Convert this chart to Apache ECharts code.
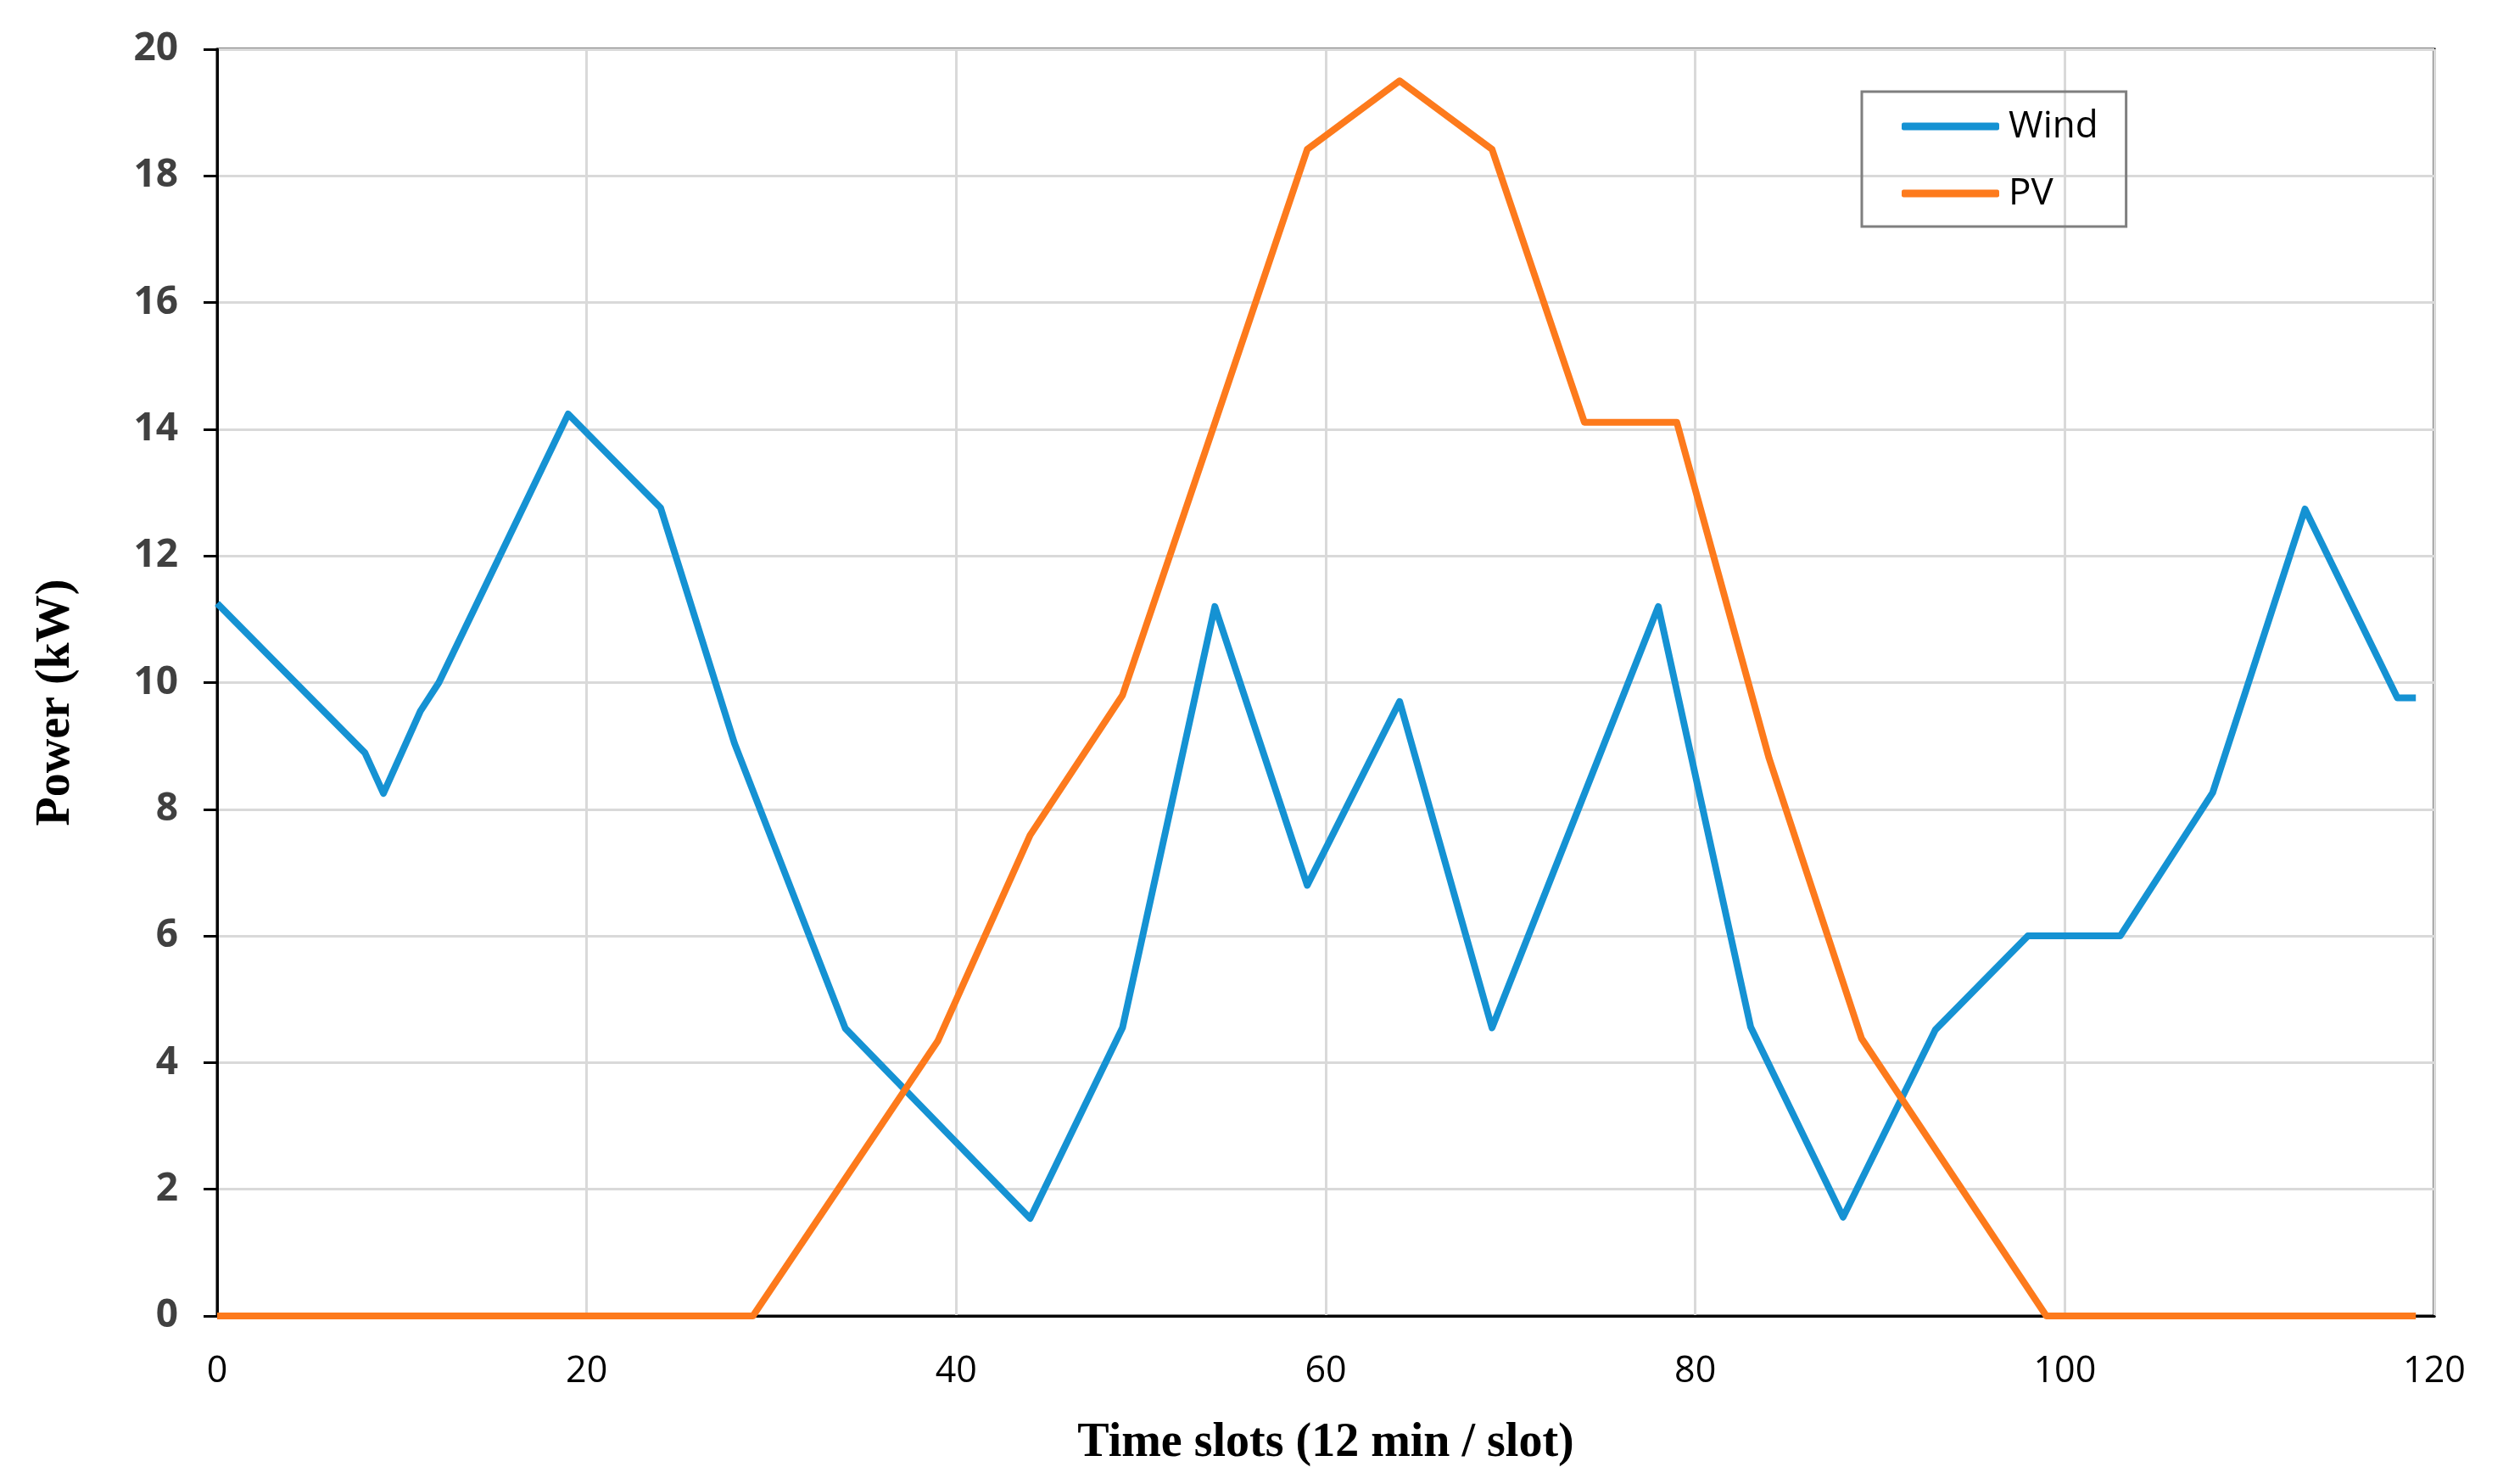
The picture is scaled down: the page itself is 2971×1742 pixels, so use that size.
<!DOCTYPE html>
<html>
<head>
<meta charset="utf-8">
<script src="https://cdn.jsdelivr.net/npm/echarts@6/dist/echarts.min.js"></script>
<style>
html,body{margin:0;padding:0;background:#fff;}
#chart{width:2971px;height:1742px;}
</style>
</head>
<body>
<div id="chart"></div>
<script>
// ---- data ----
const windSlots = [0, 8, 9, 11, 12, 19, 24, 28, 34, 44, 49, 54, 59, 64, 69, 78, 83, 88, 93, 98, 103, 108, 113, 118, 119];
const windPower = [11.25, 8.89, 8.25, 9.55, 10.0, 14.24, 12.76, 9.04, 4.54, 1.54, 4.55, 11.2, 6.8, 9.7, 4.55, 11.2, 4.56, 1.56, 4.52, 6.0, 6.0, 8.26, 12.74, 9.76, 9.76];
const pvSlots = [0, 29, 39, 44, 49, 54, 59, 64, 69, 74, 79, 84, 89, 99, 119];
const pvPower = [0, 0, 4.34, 7.59, 9.8, 14.1, 18.42, 19.5, 18.42, 14.11, 14.11, 8.8, 4.38, 0, 0];
const seriesNames = ['Wind', 'PV'];
const xTitle = 'Time slots (12 min / slot)';
const yTitle = 'Power (kW)';

const windData = windSlots.map((s, i) => [s, windPower[i]]);
const pvData = pvSlots.map((s, i) => [s, pvPower[i]]);

const chart = echarts.init(document.getElementById('chart'), null, {renderer: 'canvas'});
const gridColor = '#d9d9d9';
chart.setOption({
  animation: false,
  backgroundColor: '#ffffff',
  grid: {left: 256, right: 101, top: 58, bottom: 191, show: true, borderColor: '#000', borderWidth: 3, backgroundColor: 'transparent'},
  legend: {
    orient: 'vertical',
    left: 2195, top: 108,
    padding: [16, 33, 14, 47],
    icon: 'roundRect',
    itemWidth: 115, itemHeight: 9,
    itemGap: 29,
    borderColor: '#7f7f7f', borderWidth: 3,
    textStyle: {fontFamily: 'Open Sans', fontSize: 44, color: '#000', lineHeight: 50, padding: [0, 0, 0, 6]},
    data: seriesNames
  },
  xAxis: {
    type: 'value', min: 0, max: 120, interval: 20,
    axisLine: {show: true, lineStyle: {color: '#000', width: 3}},
    axisTick: {show: false},
    splitLine: {show: true, lineStyle: {color: gridColor, width: 3}},
    axisLabel: {color: '#000', fontFamily: 'Open Sans', fontSize: 43, margin: 44}
  },
  yAxis: {
    type: 'value', min: 0, max: 20, interval: 2,
    axisLine: {show: true, lineStyle: {color: '#000', width: 3}},
    axisTick: {show: true, inside: false, length: 16, lineStyle: {color: '#000', width: 3}},
    splitLine: {show: true, lineStyle: {color: gridColor, width: 3}},
    axisLabel: {color: '#404040', fontFamily: 'Open Sans', fontWeight: 'bold', fontSize: 46, margin: 46}
  },
  graphic: [
    {type: 'text', x: 1563, y: 1702, style: {text: xTitle, font: 'bold 56px "Liberation Serif"', fill: '#000', align: 'center', verticalAlign: 'middle'}},
    {type: 'text', x: 67, y: 828, rotation: Math.PI / 2, style: {text: yTitle, font: 'bold 56px "Liberation Serif"', fill: '#000', align: 'center', verticalAlign: 'middle'}}
  ],
  series: [
    {name: seriesNames[0], type: 'line', data: windData, symbol: 'none', color: '#1592d3',
     lineStyle: {width: 8, color: '#1592d3', join: 'round'}},
    {name: seriesNames[1], type: 'line', data: pvData, symbol: 'none', color: '#fd7a1c',
     lineStyle: {width: 8, color: '#fd7a1c', join: 'round'}}
  ]
});
</script>
</body>
</html>
